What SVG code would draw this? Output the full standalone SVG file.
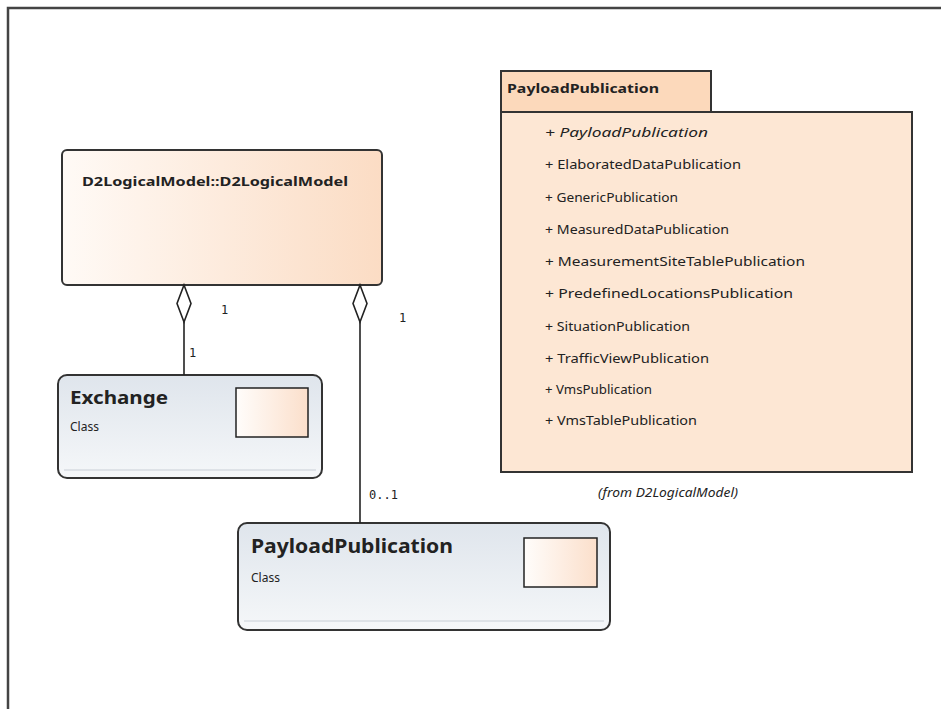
<svg xmlns="http://www.w3.org/2000/svg" width="941" height="709" viewBox="0 0 941 709">
<defs>
<linearGradient id="peach" x1="0" y1="0" x2="1" y2="0">
<stop offset="0" stop-color="#fffaf6"/>
<stop offset="1" stop-color="#fbdcc4"/>
</linearGradient>
<linearGradient id="cls" x1="0" y1="0" x2="0" y2="1">
<stop offset="0" stop-color="#dfe5ec"/>
<stop offset="1" stop-color="#f5f7f9"/>
</linearGradient>
<linearGradient id="ico" x1="0" y1="0" x2="1" y2="0">
<stop offset="0" stop-color="#fffdfb"/>
<stop offset="1" stop-color="#fbdfcb"/>
</linearGradient>
<style>
.frame{stroke:#444;stroke-width:2.5;fill:none}
.box{stroke:#333;stroke-width:2}
.conn{stroke:#222;stroke-width:1.6;fill:none}
.dia{stroke:#222;stroke-width:1.6;fill:#fff}
.t{font-family:"Noto Sans","Open Sans","Liberation Sans",sans-serif;fill:#222}
.attr{font-size:12px}
.lbl{font-family:"DejaVu Sans Mono","Liberation Mono",monospace;font-size:12px;fill:#222}
</style>
</defs>
<rect width="941" height="709" fill="#fff"/>
<path class="frame" d="M8 709 V8 H941"/>

<g id="D2LogicalModel">
<rect class="box" x="62" y="150" width="320" height="135" rx="5" fill="url(#peach)"/>
<text class="t" x="82" y="186" font-size="12.5" font-weight="bold" textLength="266" lengthAdjust="spacingAndGlyphs">D2LogicalModel::D2LogicalModel</text>
</g>

<g id="Exchange">
<rect class="box" x="58" y="375" width="264" height="103" rx="9" fill="url(#cls)"/>
<line x1="64" y1="470" x2="316" y2="470" stroke="#c8ced6" stroke-width="1"/>
<text class="t" x="70" y="404" font-size="18" font-weight="bold" textLength="98" lengthAdjust="spacingAndGlyphs">Exchange</text>
<text class="t" x="70" y="431" font-size="12" fill="#444">Class</text>
<rect x="236" y="388" width="72" height="49" fill="url(#ico)" stroke="#222" stroke-width="1.5"/>
</g>

<g id="PayloadPublicationClass">
<rect class="box" x="238" y="523" width="372" height="107" rx="9" fill="url(#cls)"/>
<line x1="244" y1="621" x2="604" y2="621" stroke="#c8ced6" stroke-width="1"/>
<text class="t" x="251" y="553" font-size="19" font-weight="bold" textLength="202" lengthAdjust="spacingAndGlyphs">PayloadPublication</text>
<text class="t" x="251" y="582" font-size="12" fill="#444">Class</text>
<rect x="524" y="538" width="73" height="49" fill="url(#ico)" stroke="#222" stroke-width="1.5"/>
</g>

<g id="PayloadPublicationPackage">
<rect class="box" x="501" y="71" width="210" height="41" fill="#fcd9bb"/>
<rect class="box" x="501" y="112" width="411" height="360" fill="#fde7d4"/>
<text class="t" x="507" y="93" font-size="12.5" font-weight="bold" textLength="152" lengthAdjust="spacingAndGlyphs">PayloadPublication</text>
<g class="t attr">
<text x="545" y="137" font-style="italic" textLength="163" lengthAdjust="spacingAndGlyphs">+ PayloadPublication</text>
<text x="545" y="169" textLength="196" lengthAdjust="spacingAndGlyphs">+ ElaboratedDataPublication</text>
<text x="545" y="202" textLength="133" lengthAdjust="spacingAndGlyphs">+ GenericPublication</text>
<text x="545" y="234" textLength="184" lengthAdjust="spacingAndGlyphs">+ MeasuredDataPublication</text>
<text x="545" y="266" textLength="260" lengthAdjust="spacingAndGlyphs">+ MeasurementSiteTablePublication</text>
<text x="545" y="298" textLength="248" lengthAdjust="spacingAndGlyphs">+ PredefinedLocationsPublication</text>
<text x="545" y="331" textLength="145" lengthAdjust="spacingAndGlyphs">+ SituationPublication</text>
<text x="545" y="363" textLength="164" lengthAdjust="spacingAndGlyphs">+ TrafficViewPublication</text>
<text x="545" y="394" textLength="107" lengthAdjust="spacingAndGlyphs">+ VmsPublication</text>
<text x="545" y="425" textLength="152" lengthAdjust="spacingAndGlyphs">+ VmsTablePublication</text>
</g>
<text class="t" x="598" y="497" font-size="12" font-style="italic" textLength="140" lengthAdjust="spacingAndGlyphs">(from D2LogicalModel)</text>
</g>

<g id="connectors">
<line class="conn" x1="184" y1="322" x2="184" y2="375"/>
<polygon class="dia" points="184,285 191,303.5 184,322 177,303.5"/>
<text class="lbl" x="221" y="314">1</text>
<text class="lbl" x="189" y="357">1</text>
<line class="conn" x1="360" y1="322" x2="360" y2="523"/>
<polygon class="dia" points="360,285 367,303.5 360,322 353,303.5"/>
<text class="lbl" x="399" y="322">1</text>
<text class="lbl" x="369" y="499">0..1</text>
</g>
</svg>
